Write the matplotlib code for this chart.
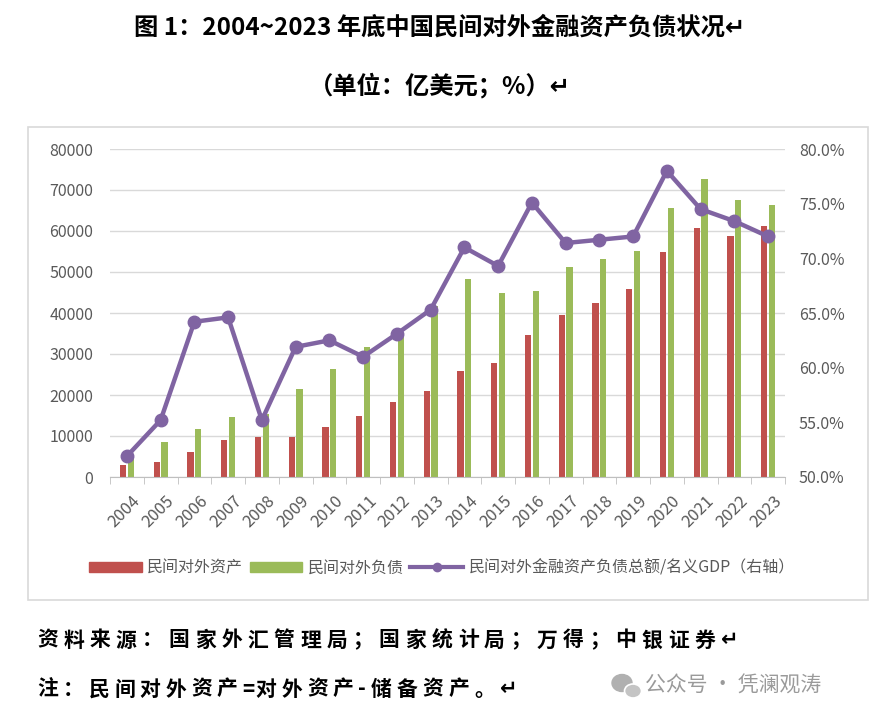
import matplotlib
matplotlib.use("Agg")
import matplotlib.pyplot as plt
import numpy as np
from matplotlib.patches import Rectangle, Ellipse
from matplotlib.lines import Line2D
from matplotlib.patches import Patch

plt.rcParams['font.family'] = ['Noto Sans CJK SC', 'DejaVu Sans']

years = [str(y) for y in range(2004, 2024)]
assets = [2900, 3700, 6200, 9000, 9800, 9800, 12300, 15000, 18200, 21000,
          25900, 27900, 34700, 39500, 42400, 45900, 54800, 60800, 58800, 61100]
liabilities = [4600, 8600, 11700, 14700, 15400, 21500, 26300, 31800, 35200, 41600,
               48300, 45000, 45400, 51100, 53200, 55200, 65600, 72800, 67600, 66400]
ratio = [51.9, 55.2, 64.2, 64.6, 55.2, 61.9, 62.5, 61.0, 63.1, 65.3,
         71.0, 69.3, 75.1, 71.4, 71.7, 72.0, 78.0, 74.5, 73.4, 72.0]

RED = '#C0504D'
GREEN = '#9BBB59'
PURPLE = '#8064A2'
GREY = '#595959'

W_PX, H_PX = 869, 720


def spaced_text(fig, x0, y, s, pitch, **kw):
    # place characters one by one with a fixed pitch (full width), half for ascii
    x = x0
    for ch in s:
        fig.text(x / W_PX, 1 - y / H_PX, ch, ha='left', va='center', **kw)
        x += pitch / 2 if ord(ch) < 128 else pitch


fig = plt.figure(figsize=(W_PX / 100, H_PX / 100), dpi=100)

# chart frame
fig.patches.append(Rectangle((28 / W_PX, 1 - 600 / H_PX), 840 / W_PX, 473 / H_PX,
                             transform=fig.transFigure, fill=False,
                             edgecolor='#d9d9d9', linewidth=1.2))

ax = fig.add_axes([110 / W_PX, 1 - 477 / H_PX, 675 / W_PX, 328 / H_PX])
x = np.arange(len(years))
w = 0.19
ax.bar(x - w / 2 - 0.02, assets, width=w, color=RED, zorder=2)
ax.bar(x + w / 2 + 0.02, liabilities, width=w, color=GREEN, zorder=2)
ax.set_ylim(0, 80000)
ax.set_xlim(-0.5, len(years) - 0.5)
ax.set_yticks(range(0, 80001, 10000))
ax.yaxis.grid(True, color='#d9d9d9', linewidth=1)
ax.set_axisbelow(True)
for s in ['top', 'right', 'left']:
    ax.spines[s].set_visible(False)
ax.spines['bottom'].set_color('#bfbfbf')
ax.tick_params(axis='y', length=0, labelsize=11.5, labelcolor=GREY, pad=12)
ax.set_xticks(np.arange(-0.5, len(years), 1), minor=True)
ax.tick_params(axis='x', which='minor', length=5, color='#bfbfbf')
ax.set_xticks(x + 0.15)
ax.set_xticklabels(years, rotation=45, ha='right', rotation_mode='anchor')
ax.tick_params(axis='x', which='major', length=0, labelsize=12, labelcolor=GREY, pad=11)

ax2 = ax.twinx()
ax2.plot(x, ratio, color=PURPLE, linewidth=3.2, marker='o', markersize=9, zorder=3)
ax2.set_ylim(50, 80)
ax2.set_yticks(range(50, 81, 5))
ax2.set_yticklabels([f'{v:.1f}%' for v in range(50, 81, 5)])
for s in ['top', 'right', 'left']:
    ax2.spines[s].set_visible(False)
ax2.spines['bottom'].set_visible(False)
ax2.tick_params(axis='y', length=0, labelsize=11.5, labelcolor=GREY, pad=10)

handles = [Patch(color=RED), Patch(color=GREEN),
           Line2D([0], [0], color=PURPLE, linewidth=3, marker='o', markersize=6)]
labels = ['民间对外资产', '民间对外负债', '民间对外金融资产负债总额/名义GDP（右轴）']
fig.legend(handles, labels, loc='center', bbox_to_anchor=(442 / W_PX, 1 - 568 / H_PX),
           ncol=3, frameon=False, fontsize=11.5, handlelength=3.3, handleheight=0.55,
           columnspacing=0.4, handletextpad=0.35, labelcolor=GREY)

fig.text(440 / W_PX, 1 - 28 / H_PX, '图 1：2004~2023 年底中国民间对外金融资产负债状况↵',
         ha='center', va='center', fontsize=17.5, fontweight='bold')
fig.text(440 / W_PX, 1 - 86 / H_PX, '（单位：亿美元；%）↵',
         ha='center', va='center', fontsize=17.5, fontweight='bold')
spaced_text(fig, 37, 640, '资料来源：国家外汇管理局；国家统计局；万得；中银证券↵', 26.3,
            fontsize=15, fontweight='bold')
spaced_text(fig, 37, 689, '注：民间对外资产=对外资产-储备资产。↵', 25.7,
            fontsize=15, fontweight='bold')

# watermark
fig.patches.append(Ellipse((622 / W_PX, 1 - 683 / H_PX), 20 / W_PX, 17 / H_PX,
                           transform=fig.transFigure, color='#b0b0b0'))
fig.patches.append(Ellipse((633 / W_PX, 1 - 691 / H_PX), 17 / W_PX, 14 / H_PX,
                           transform=fig.transFigure, color='#c4c4c4',
                           ec='white', lw=1.2))
fig.text(645 / W_PX, 1 - 686 / H_PX, '公众号 · 凭澜观涛',
         ha='left', va='center', fontsize=15, color='#9a9a9a')

fig.savefig('out.png', dpi=100)
